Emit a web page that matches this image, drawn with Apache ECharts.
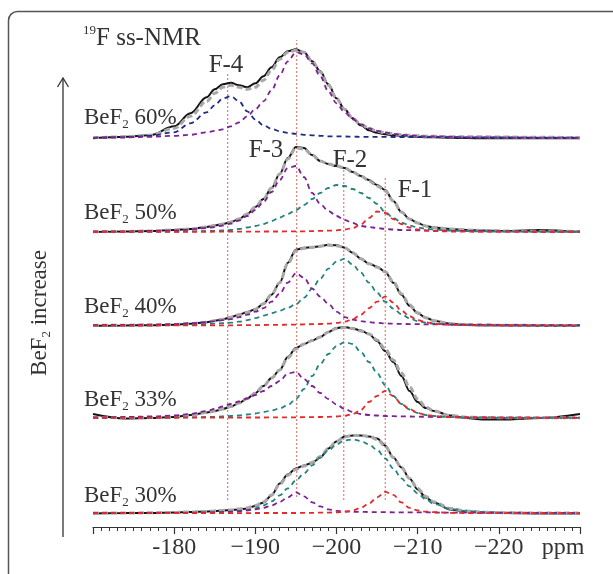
<!DOCTYPE html>
<html>
<head>
<meta charset="utf-8">
<script src="https://cdn.jsdelivr.net/npm/echarts@6/dist/echarts.min.js"></script>
<style>
html, body { margin: 0; padding: 0; background: #fff; }
#main { width: 613px; height: 574px; }
</style>
</head>
<body>
<div id="main"></div>
<script>
// chemical shift grid (ppm), shared by every trace
var ppm = [-170,-174,-177,-180,-182,-184,-185,-186,-187,-188,-189,-190,-191,-192,-193,-194,-195,-196,-197,-198,
           -199,-200,-201,-202,-203,-204,-205,-206,-207,-208,-209,-210,-211,-212,-214,-216,-218,-221,-225,-230];

// x axis ticks and labels
var tickValues = [-230, -220, -210, -200, -190, -180, -170];
var tickLabels = ['', '\u2212220', '\u2212210', '\u2212200', '\u2212190', '-180', ''];

// BeF2 content of each trace, from top to bottom, and the stacking offset of its baseline
var specNames = ['60%', '50%', '40%', '33%', '30%'];
var baselines = [388.7, 295, 201.3, 109, 13.6];

// BeF2 60%
var exp60  = [0,1.5,3,12,25,41,49,54,55.5,53,51,55,62,71,81,87,89,86,77,67,54,40,29,20,13,8,5.5,4,3,2.5,2,1.5,1,1,0.5,0.3,0,0,0,0];
var fit60  = [0.5,1.5,3,10,22,37,45,51,53,51,49,51,58,68,79,86,88,86,77,66,53,40,29,20,14,10,7,5.5,4.5,3.5,3,2.5,2,2,1.5,1.5,1.5,1.2,1,0.8];
var f4_60  = [0.5,1,2.5,6,15,26,33,40,42,37,27,19,13,9.5,7,5.5,4.5,3.5,3,2.5,2,2,1.8,1.6,1.5,1.5,1.5,1.4,1.3,1.3,1.2,1.2,1.2,1.1,1.1,1,1,0.8,0.7,0.5];
var f3_60  = [0.5,1,1.5,2.5,3.5,6,7.5,9,12,16,22,29,37,48,63,77,86,84,75,62,47,35,26,19,14,10,7.5,6,4.5,3.5,3,2.5,2,2,1.5,1,1,0.7,0.5,0.3];

// BeF2 50%
var exp50  = [0,0.5,1,2,3,5,6.5,8,10,13,18,25,33,44,58,74,85,84,77,71,68,66,64,60,56,52,47,42,31,20,13,9,6,4.5,3,2,1.5,1,2,0];
var fit50  = [0.3,0.5,1,2,3,5,6.5,8,10,13,18,25,33,44,58,73,84,83,77,71,68,66,64,60,56,51,46,41,31,20,13,9,6,4.5,3,2,1.5,1,0.8,0.5];
var f3_50  = [0.5,0.7,1,1.5,2.5,4,5,6.5,8.5,11.5,16,22,30,40,52,64,66,55,39,28,21,16,12,9,6,5,4,3,2.5,2,1.8,1.6,1.5,1.4,1.2,1,1,0.8,0.6,0.5];
var f2_50  = [0,0.2,0.3,0.4,0.7,1,1.3,1.6,2,3,4.5,6,8,11,14.5,18,22,27,33,39,44,47,46,43,39,34,28,20,14,9.5,6.5,4.5,3.2,2.4,1.4,0.9,0.6,0.4,0.3,0.2];
var f1_50  = [0,0,0.1,0.1,0.2,0.2,0.3,0.3,0.3,0.4,0.4,0.4,0.5,0.5,0.5,0.6,0.6,0.7,0.9,1.1,1.3,1.7,2.5,4,7.5,14,20.5,19,13,8,4.5,2.5,1.5,1,0.5,0.3,0.2,0.1,0,0];

// BeF2 40%
var exp40  = [0,0.3,0.5,1,2,3.5,5,6.5,8.5,11,13.5,16.5,22,31,43,63,76,78,78.5,79.5,81,80.5,78,73,67,62,59,54,43,31,20,12.5,8,5,2,1,0.5,0.3,0,0];
var fit40  = [0.3,0.5,0.8,1.2,2,3.5,5,6.5,8.5,11,13.5,16.5,22,31,43,62,75,77.5,78.5,79.5,80.5,80,78,73,67,62,58.5,54,44,32,21,13,8,5,2,1,0.6,0.4,0.3,0.3];
var f3_40  = [0.5,0.8,1,1.5,2.5,3.5,4.5,5.5,6.5,8.5,11,14,17.5,24,32,43,52.5,48,37,29,22,14,8.5,6,4.5,3.5,2.8,2.3,2,1.8,1.6,1.5,1.4,1.3,1.2,1,1,0.8,0.6,0.5];
var f2_40  = [0.3,0.4,0.5,0.6,1,1.5,2,2.5,3,4,5.5,7.5,10,12.5,15,18,21.5,28,37,47,57,64,67,61,53,43,33,24,17,11.5,7.5,4.5,3,2,1,0.6,0.4,0.3,0.2,0.2];
var f1_40  = [0,0.1,0.2,0.3,0.3,0.3,0.3,0.4,0.4,0.5,0.5,0.6,0.7,0.8,0.9,1,1.1,1.3,1.5,1.7,2,2.8,4,6.5,11,17.5,24,29,23,15,9.5,5.5,3.5,2,1,0.5,0.3,0.2,0.1,0];

// BeF2 33%
var exp33  = [4,-0.5,0,1,3,5.5,7,9,11.5,15,19.5,25,32,40,48,61,70,74,77.5,81,86,90,91,89.5,87.5,84,77,67,56,42,27,16,10,7,2.5,0,-1.5,-1.5,0,4];
var fit33  = [0.5,0.5,0.5,1,3,5.5,7,9,11.5,15,19.5,25,32,40,48,60,69,74,77.5,81,86,89.5,90.5,89.5,87,84,78,69,58,45,31,19,11,7,2.5,0.8,0.5,0.3,0.3,0.3];
var f3_33  = [0.5,1,1.5,2.5,4,7,9,11.5,14,16.5,19.5,23,27,32,37,44.5,46,39,32,25,19,13.5,9,6,4,3,2.5,2,1.8,1.6,1.5,1.3,1.2,1,0.8,0.6,0.5,0.4,0.3,0.3];
var f2_33  = [0.2,0.3,0.4,0.5,0.7,1,1.3,1.6,2,2.5,3.5,4.5,6,7.5,9.5,13,19,29,42,54,64,72,76,74,66,56,45,33,22,14,8.5,5,3,2,1,0.5,0.3,0.2,0.2,0.2];
var f1_33  = [0.2,0.2,0.2,0.3,0.3,0.3,0.3,0.4,0.4,0.4,0.5,0.5,0.5,0.6,0.6,0.7,0.7,0.8,0.9,1,1.2,1.5,2.2,4,8,16,22,27,22,14,9,5,3,2,1,0.5,0.3,0.3,0.2,0.2];

// BeF2 30%
var exp30  = [0,0.3,0.5,1,1.5,2,2.5,3,3.5,4,5,7.5,11,18,30,39,45,48,50.5,56,65,72,77,78,78,77,75,68,56,46,35,24,16,11,4,2,1,0.5,0,0];
var fit30  = [0.3,0.4,0.6,1,1.5,2,2.5,3,3.5,4.5,5.5,8,11.5,18.5,29,38,44,47.5,51,57,65,72,76.5,78,78,77,74,67,56,46,35,25,17,11.5,5,2.5,1.2,0.6,0.4,0.3];
var f3_30  = [0.3,0.4,0.4,0.5,0.6,0.8,1,1.2,1.5,2,3,4,5.5,8,11.5,16,21,17,11,7,4,2.5,2,1.6,1.5,1.4,1.3,1.2,1.1,1.1,1,1,1,0.9,0.8,0.8,0.7,0.7,0.6,0.5];
var f2_30  = [0.2,0.3,0.4,0.5,0.7,1,1.2,1.5,2,2.5,3,5,8,12,18,25,33,40,48,56,63,69,73,74,72.5,69,63.5,55,45,35,27,20,14,9.5,4.5,2.5,1.2,0.5,0.3,0.2];
var f1_30  = [0.2,0.2,0.2,0.2,0.2,0.3,0.3,0.3,0.3,0.3,0.3,0.4,0.4,0.4,0.4,0.4,0.4,0.5,0.6,0.7,0.8,1,1.5,3,5.5,10,16,21.5,18.5,11,5.5,3,1.8,1.2,0.6,0.3,0.2,0.2,0.2,0.2];

// assignment guides F-4 .. F-1 (ppm, and the vertical span they cover)
var guideNames  = ['F-4', 'F-3', 'F-2', 'F-1'];
var guidePos    = [-186.6, -195.1, -200.9, -206.0];
var guideTop    = [455, 487, 360, 349];
var guideBottom = [27, 30, 27, 27];

var SERIF = '"Liberation Serif", "Times New Roman", serif';
var TXT = '#333';
var C_EXP = '#141414', C_FIT = '#a8a8a8';
var C_F4 = '#1d2c80', C_F3 = '#7e2192', C_F2 = '#21847f', C_F1 = '#e42a2a';

var spectra = [
  { exp: exp60, fit: fit60, comps: [[f4_60, C_F4], [f3_60, C_F3]] },
  { exp: exp50, fit: fit50, comps: [[f2_50, C_F2], [f3_50, C_F3], [f1_50, C_F1]] },
  { exp: exp40, fit: fit40, comps: [[f2_40, C_F2], [f3_40, C_F3], [f1_40, C_F1]] },
  { exp: exp33, fit: fit33, comps: [[f2_33, C_F2], [f3_33, C_F3], [f1_33, C_F1]] },
  { exp: exp30, fit: fit30, comps: [[f2_30, C_F2], [f3_30, C_F3], [f1_30, C_F1]] }
];

function pts(vals, base) {
  return ppm.map(function (p, i) { return [p, vals[i] + base]; });
}
function curve(vals, base, color, width, dash, z) {
  return {
    type: 'line', data: pts(vals, base), symbol: 'none', smooth: 0.35, smoothMonotone: 'x',
    lineStyle: { color: color, width: width, type: dash }, z: z, silent: true
  };
}

var series = [];
// dotted guide lines
guidePos.forEach(function (p, i) {
  series.push({
    type: 'line', data: [[p, guideBottom[i]], [p, guideTop[i]]], symbol: 'none', silent: true, z: 1,
    lineStyle: { color: '#d9534f', width: 0.9, type: [2, 2] }
  });
});
spectra.forEach(function (s, k) {
  var b = baselines[k];
  series.push(curve(s.exp, b, C_EXP, 2, 'solid', 2));
  series.push(curve(s.fit, b, C_FIT, 3, [6, 3], 3));
  s.comps.forEach(function (c, j) {
    series.push(curve(c[0], b, c[1], 1.8, [5, 4], 4 + j));
  });
});

// text blocks
function label(x, y, text, rich, align) {
  return { type: 'text', x: x, y: y, silent: true,
    style: { text: text, rich: rich, align: align || 'left', verticalAlign: 'middle', fill: TXT } };
}
var richBeF = {
  m: { fontFamily: SERIF, fontSize: 23, fill: TXT, lineHeight: 26 },
  s: { fontFamily: SERIF, fontSize: 13, fill: TXT, lineHeight: 14, verticalAlign: 'bottom' }
};
var specLabelY = [118, 213, 307, 400, 496];
var graphics = [
  { type: 'rect', silent: true, z: -10,
    shape: { x: 8.5, y: 11.5, width: 680, height: 640, r: 9 },
    style: { fill: 'transparent', stroke: '#555', lineWidth: 1.5 } },
  { type: 'polyline', silent: true, shape: { points: [[63, 537], [63, 78]] },
    style: { stroke: '#333', lineWidth: 1.3, fill: null } },
  { type: 'polyline', silent: true, shape: { points: [[57.5, 87], [63, 78], [68.5, 87]] },
    style: { stroke: '#333', lineWidth: 1.3, fill: null } },
  { type: 'text', x: 40, y: 313, rotation: Math.PI / 2, silent: true,
    style: { text: '{m|BeF}{s|2}{m| increase}', rich: {
      m: { fontFamily: SERIF, fontSize: 23, fill: TXT, lineHeight: 26 },
      s: { fontFamily: SERIF, fontSize: 13, fill: TXT, lineHeight: 14, verticalAlign: 'bottom' } },
      align: 'center', verticalAlign: 'middle' } },
  label(83, 38, '{s|19}{m|F ss-NMR}', {
    m: { fontFamily: SERIF, fontSize: 25, fill: TXT, lineHeight: 28 },
    s: { fontFamily: SERIF, fontSize: 13, fill: TXT, lineHeight: 14, verticalAlign: 'top' } }),
  label(226, 65, '{m|F-4}', { m: { fontFamily: SERIF, fontSize: 25, fill: TXT } }, 'center'),
  label(266, 150, '{m|F-3}', { m: { fontFamily: SERIF, fontSize: 25, fill: TXT } }, 'center'),
  label(350, 160, '{m|F-2}', { m: { fontFamily: SERIF, fontSize: 25, fill: TXT } }, 'center'),
  label(415, 190, '{m|F-1}', { m: { fontFamily: SERIF, fontSize: 25, fill: TXT } }, 'center'),
  label(563, 548, '{m|ppm}', { m: { fontFamily: SERIF, fontSize: 24, fill: TXT } }, 'center')
];
specNames.forEach(function (n, k) {
  graphics.push(label(84, specLabelY[k], '{m|BeF}{s|2}{m| ' + n + '}', richBeF));
});

var chart = echarts.init(document.getElementById('main'));
chart.setOption({
  animation: false,
  backgroundColor: '#fff',
  grid: { left: 93, right: 33, top: 27, bottom: 47 },
  xAxis: {
    type: 'value', min: -230, max: -170, interval: 10, inverse: true,
    axisLine: { lineStyle: { color: '#333', width: 1.2 } },
    axisTick: { show: true, length: 7, lineStyle: { color: '#333', width: 1.2 } },
    minorTick: { show: true, splitNumber: 10, length: 4, lineStyle: { color: '#333', width: 1 } },
    splitLine: { show: false },
    axisLabel: {
      fontFamily: SERIF, fontSize: 24, color: TXT, margin: 9,
      formatter: function (v) { var i = tickValues.indexOf(v); return i < 0 ? '' : tickLabels[i]; }
    }
  },
  yAxis: { type: 'value', min: 0, max: 500, show: false },
  series: series,
  graphic: graphics
});
</script>
</body>
</html>
